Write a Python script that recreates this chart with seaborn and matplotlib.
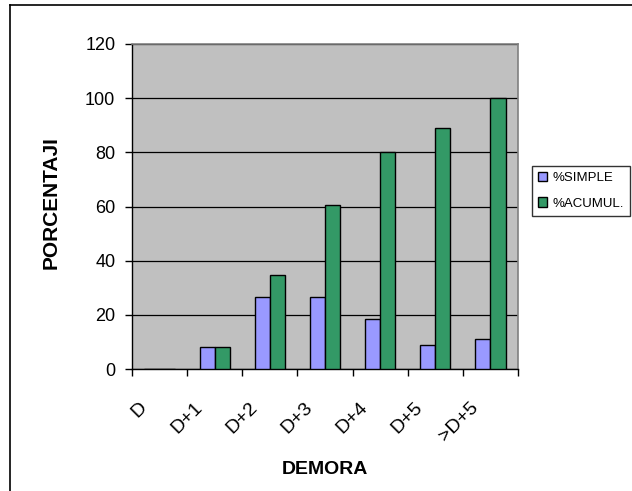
import matplotlib
matplotlib.use("Agg")
import matplotlib.pyplot as plt
import matplotlib.transforms as mtransforms
from matplotlib.lines import Line2D
import seaborn as sns
import pandas as pd

categories = ["D", "D+1", "D+2", "D+3", "D+4", "D+5", ">D+5"]
simple = [0, 8.0, 26.5, 26.5, 18.5, 8.9, 11.1]
acumul = [0, 8.0, 34.8, 60.7, 80.1, 89.0, 100.0]
series_names = ["%SIMPLE", "%ACUMUL."]
colors = ["#9999FF", "#339966"]

df = pd.DataFrame({
    "cat": categories * 2,
    "serie": [series_names[0]] * len(categories) + [series_names[1]] * len(categories),
    "val": simple + acumul,
})

plt.rcParams["font.family"] = ["Liberation Sans", "DejaVu Sans"]

W, H = 632, 491
fig = plt.figure(figsize=(W / 100, H / 100), dpi=100)
ax = fig.add_axes([132 / W, 1 - 369 / H, 386 / W, 325 / H])
ax.set_facecolor("#C0C0C0")

sns.barplot(data=df, x="cat", y="val", hue="serie", order=categories,
            hue_order=series_names, palette=colors, width=0.55,
            edgecolor="black", linewidth=1.0, saturation=1, ax=ax, zorder=3)

ax.set_ylim(0, 120)
ax.set_yticks(range(0, 121, 20))
ax.set_xlim(-0.5, len(categories) - 0.5)
ax.yaxis.grid(True, color="black", linewidth=0.9, zorder=1)
ax.set_axisbelow(True)

for s in ["top", "right"]:
    ax.spines[s].set_color("#808080")
    ax.spines[s].set_linewidth(1.2)
for s in ["left", "bottom"]:
    ax.spines[s].set_color("black")
    ax.spines[s].set_linewidth(1.0)

ax.tick_params(axis="y", direction="out", length=5, width=1, labelsize=13, pad=7)
ax.tick_params(axis="x", which="major", length=0, labelsize=14, pad=0)
ax.set_xticks([i + 0.5 for i in range(-1, len(categories))], minor=True)
ax.tick_params(axis="x", which="minor", direction="out", length=5, width=1)

offset = mtransforms.ScaledTranslation(-15 / 100, -36 / 100, fig.dpi_scale_trans)
for lab in ax.get_xticklabels():
    lab.set_rotation(45)
    lab.set_ha("right")
    lab.set_va("center")
    lab.set_rotation_mode("anchor")
    lab.set_transform(lab.get_transform() + offset)

ax.set_xlabel("DEMORA", fontsize=14, fontweight="bold")
ax.xaxis.set_label_coords(0.5, (369 - 461) / 325)
ax.set_ylabel("PORCENTAJI", fontsize=15, fontweight="bold")
ax.yaxis.set_label_coords((61 - 132) / 386, (369 - 202.5) / 325)

leg = ax.legend(loc="upper left", bbox_to_anchor=(532 / W, 1 - 166 / H),
                bbox_transform=fig.transFigure, borderaxespad=0, frameon=True,
                fancybox=False, edgecolor="black", fontsize=9.5,
                handlelength=0.7, handleheight=0.7, handletextpad=0.4,
                borderpad=0.45, labelspacing=1.0)
leg.get_frame().set_linewidth(1.0)
for h in leg.legend_handles:
    h.set_edgecolor("black")
    h.set_linewidth(1.0)

fig.add_artist(Line2D([10 / W, 10 / W], [1 - 5 / H, 0], transform=fig.transFigure,
                      color="black", linewidth=1.2))
fig.add_artist(Line2D([10 / W, 1], [1 - 5 / H, 1 - 5 / H], transform=fig.transFigure,
                      color="black", linewidth=1.2))

fig.savefig("out.png", dpi=100)
